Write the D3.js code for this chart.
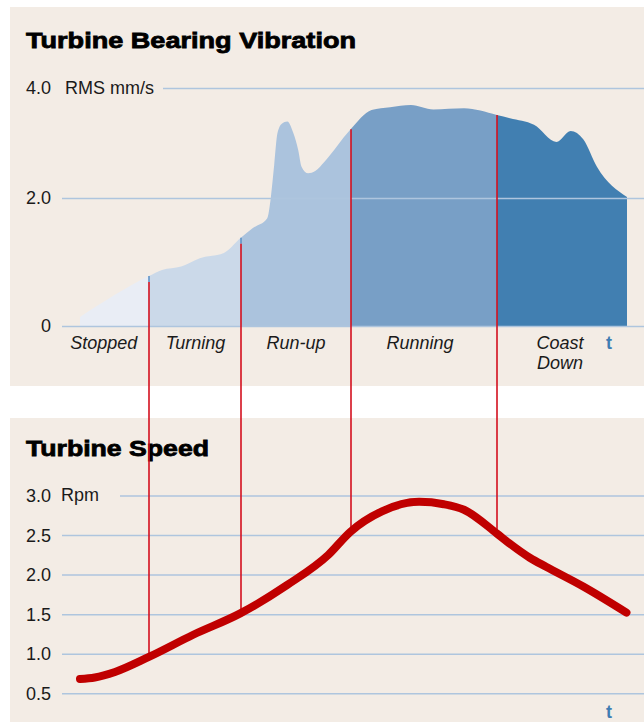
<!DOCTYPE html>
<html>
<head>
<meta charset="utf-8">
<script src="https://cdn.jsdelivr.net/npm/d3@7"></script>
<style>
  html, body { margin: 0; padding: 0; background: #ffffff; }
  svg { display: block; }
  text { font-family: "Liberation Sans", Arial, Helvetica, sans-serif; }
</style>
</head>
<body>
<svg id="chart" width="644" height="722"></svg>
<script>
// ---------------- DATA ----------------
// time axis: arbitrary units 0..100 across the process
const phaseNames = ["Stopped", "Turning", "Run-up", "Running", "Coast Down"];
const phaseStart = [0, 12.6, 29.4, 49.5, 76.2];
const phaseEnd   = [12.6, 29.4, 49.5, 76.2, 100];
const phaseColors = ["#e9edf5", "#cbd9e9", "#abc3dd", "#789fc6", "#417fb1"];

// bearing vibration, RMS mm/s
const vibTime = [0, 12.6, 15.0, 18.5, 21.9, 26.3, 29.3, 31.6, 34.2, 34.9, 35.5, 36.1, 36.9, 37.9,
                 39.0, 39.9, 40.5, 41.7, 43.0, 44.7, 49.4, 53.3, 56.7, 60.5, 64.6, 70.2, 76.2,
                 78.6, 83.0, 87.1, 89.7, 92.0, 94.5, 100];
const vibValue = [0.14, 0.78, 0.875, 0.93, 1.06, 1.14, 1.37, 1.53, 1.68, 2.02, 2.6, 3.18, 3.35, 3.39,
                  3.18, 2.87, 2.57, 2.45, 2.49, 2.66, 3.24, 3.60, 3.65, 3.69, 3.61, 3.63, 3.51,
                  3.45, 3.33, 3.02, 3.22, 3.07, 2.57, 2.02];
const vibTicks = [0, 2, 4];

// turbine speed, rpm (scaled)
const speedTime = [0, 2.7, 6.4, 12.6, 20.7, 29.3, 37.9, 45.4, 49.4, 55.2, 62.0, 66.5, 70.2,
                   76.2, 78.4, 82.3, 85.2, 92.0, 99.9];
const speedValue = [0.68, 0.70, 0.77, 0.96, 1.24, 1.51, 1.87, 2.25, 2.54, 2.80, 2.92, 2.89, 2.82,
                    2.52, 2.40, 2.21, 2.10, 1.85, 1.52];
const speedTicks = [0.5, 1.0, 1.5, 2.0, 2.5, 3.0];

// ---------------- SCALES ----------------
const svg = d3.select("#chart");
const W = 644;
const x = d3.scaleLinear().domain([0, 100]).range([80, 627]);
const yV = d3.scaleLinear().domain([0, 2, 4]).range([326, 198, 88]);
const yS = d3.scaleLinear().domain([0.5, 3.0]).range([693.3, 495.5]);

const vib = vibTime.map((t, i) => ({t, v: vibValue[i]}));
const spd = speedTime.map((t, i) => ({t, v: speedValue[i]}));

function interp(data, t) {
  const i = d3.bisector(d => d.t).left(data, t);
  if (i <= 0) return data[0].v;
  if (i >= data.length) return data[data.length - 1].v;
  const a = data[i - 1], b = data[i];
  return a.v + (b.v - a.v) * (t - a.t) / (b.t - a.t);
}

// ---------------- PANELS ----------------
const bg = "#f3ece5";
svg.append("rect").attr("x", 10).attr("y", 7).attr("width", W - 10).attr("height", 379).attr("fill", bg);
svg.append("rect").attr("x", 10).attr("y", 418).attr("width", W - 10).attr("height", 304).attr("fill", bg);

svg.append("text").attr("x", 26).attr("y", 48)
  .attr("font-size", 22).attr("font-weight", "bold")
  .attr("fill", "#000").attr("stroke", "#000").attr("stroke-width", 0.8)
  .attr("textLength", 330).attr("lengthAdjust", "spacingAndGlyphs")
  .text("Turbine Bearing Vibration");
svg.append("text").attr("x", 26).attr("y", 456)
  .attr("font-size", 22).attr("font-weight", "bold")
  .attr("fill", "#000").attr("stroke", "#000").attr("stroke-width", 0.8)
  .attr("textLength", 183).attr("lengthAdjust", "spacingAndGlyphs")
  .text("Turbine Speed");

// ---------------- VIBRATION AREA ----------------
const defs = svg.append("defs");
const area = d3.area().x(d => x(d.t)).y0(yV(0)).y1(d => yV(d.v)).curve(d3.curveMonotoneX);
phaseNames.forEach((p, i) => {
  defs.append("clipPath").attr("id", "clip" + i)
    .append("rect")
    .attr("x", x(phaseStart[i])).attr("y", 0)
    .attr("width", x(phaseEnd[i]) - x(phaseStart[i])).attr("height", 400);
  svg.append("path").datum(vib)
    .attr("d", area).attr("fill", phaseColors[i])
    .attr("clip-path", "url(#clip" + i + ")");
});

// ---------------- AXES / GRID ----------------
const gridColor = "#aec5de";
function styleAxis(g) {
  g.select(".domain").remove();
  g.selectAll(".tick line").attr("stroke", gridColor).attr("stroke-width", 1.5);
  g.selectAll(".tick text").attr("fill", "#1a1a1a").attr("font-size", 18)
    .attr("font-family", "Liberation Sans, Arial, sans-serif").attr("dy", "0.33em");
}
const axV = svg.append("g").attr("transform", "translate(62,0)")
  .call(d3.axisLeft(yV).tickValues(vibTicks).tickSize(-(W - 62)).tickPadding(11)
        .tickFormat(d => d === 0 ? "0" : d3.format(".1f")(d)));
styleAxis(axV);
axV.selectAll(".tick").filter(d => d === 4).select("line").attr("x1", 163 - 62);
svg.append("text").attr("x", 65).attr("y", yV(4)).attr("dy", "0.33em")
  .attr("font-size", 18).attr("fill", "#1a1a1a").text("RMS mm/s");

const axS = svg.append("g").attr("transform", "translate(62,0)")
  .call(d3.axisLeft(yS).tickValues(speedTicks).tickSize(-(W - 62)).tickPadding(11)
        .tickFormat(d3.format(".1f")));
styleAxis(axS);
axS.selectAll(".tick").filter(d => d === 3).select("line").attr("x1", 120 - 62);
svg.append("text").attr("x", 61).attr("y", yS(3)).attr("dy", "0.33em")
  .attr("font-size", 18).attr("fill", "#1a1a1a").text("Rpm");

// ---------------- PHASE LABELS ----------------
const labelX = [103.8, 195.5, 296, 420, 560];
phaseNames.forEach((p, i) => {
  const t = svg.append("text").attr("x", labelX[i]).attr("y", 349)
    .attr("font-size", 18).attr("font-style", "italic").attr("fill", "#1a1a1a")
    .attr("text-anchor", "middle");
  const words = p === "Coast Down" ? ["Coast", "Down"] : [p];
  words.forEach((w, j) => {
    t.append("tspan").attr("x", labelX[i]).attr("dy", j === 0 ? 0 : 20).text(w);
  });
});
svg.append("text").attr("x", 606).attr("y", 349).attr("font-size", 18).attr("font-weight", "bold")
  .attr("fill", "#3f7db3").text("t");
svg.append("text").attr("x", 606).attr("y", 718).attr("font-size", 18).attr("font-weight", "bold")
  .attr("fill", "#3f7db3").text("t");

// ---------------- PHASE GUIDE LINES ----------------
phaseStart.slice(1).forEach((t, i) => {
  const xx = Math.round(x(t));
  const top = yV(interp(vib, t));
  const bottom = yS(interp(spd, t));
  const offset = i < 2 ? 6 : 0;
  if (offset) {
    svg.append("line").attr("x1", xx).attr("x2", xx).attr("y1", top).attr("y2", top + offset)
      .attr("stroke", "#5f93c6").attr("stroke-width", 1.6);
  }
  svg.append("line").attr("x1", xx).attr("x2", xx).attr("y1", top + offset).attr("y2", bottom)
    .attr("stroke", "#d4101e").attr("stroke-width", 1.6);
});

// ---------------- SPEED CURVE ----------------
const line = d3.line().x(d => x(d.t)).y(d => yS(d.v)).curve(d3.curveMonotoneX);
svg.append("path").datum(spd).attr("d", line)
  .attr("fill", "none").attr("stroke", "#c00000").attr("stroke-width", 8)
  .attr("stroke-linecap", "round").attr("stroke-linejoin", "round");
</script>
</body>
</html>
